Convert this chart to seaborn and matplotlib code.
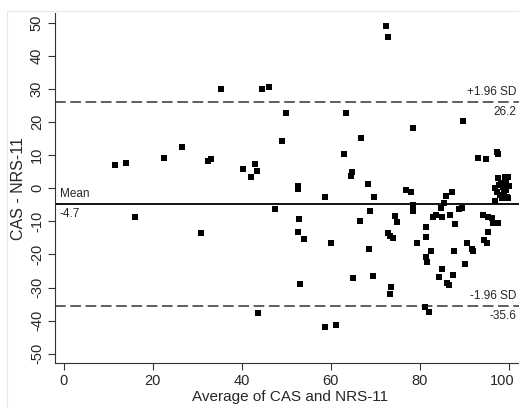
import matplotlib
matplotlib.use("Agg")
import matplotlib.pyplot as plt
import seaborn as sns
import pandas as pd
from matplotlib.patches import Rectangle
from matplotlib.transforms import ScaledTranslation

# ---- data ----
avg = [11.6, 13.9, 16.0, 22.6, 26.6, 30.9, 32.4, 33.1, 35.4, 40.4,
       42.2, 43.1, 43.4, 43.6, 44.6, 46.1, 47.5, 49.1, 50.0, 52.6,
       52.7, 52.9, 52.7, 54.0, 53.1, 58.7, 58.8, 60.1, 61.2, 63.0,
       63.4, 64.6, 64.7, 65.0, 66.7, 66.9, 68.5, 68.9, 68.7, 69.7,
       69.6, 72.5, 72.9, 72.8, 73.3, 74.1, 73.5, 73.4, 74.4, 75.0,
       76.9, 78.1, 78.6, 78.5, 78.6, 79.4, 81.5, 81.5, 82.6, 81.4,
       81.6, 81.1, 82.1, 82.9, 83.7, 84.3, 84.8, 85.0, 85.1, 85.5,
       85.9, 86.2, 86.7, 86.9, 87.3, 87.6, 87.7, 87.9, 88.9, 89.6,
       89.7, 90.2, 90.7, 91.8, 92.1, 93.2, 94.8, 94.2, 95.4, 96.3,
       96.5, 97.7, 95.3, 94.5, 95.1, 96.9, 97.4, 97.5,
       97.5, 98.2, 98.8, 99.5, 99.8, 97.0, 97.3, 98.0, 99.0, 99.6,
       99.9, 98.5, 100.0, 99.3, 97.8, 99.2]
diff = [6.9, 7.7, -8.6, 9.2, 12.5, -13.6, 8.3, 8.8, 30.0, 5.8,
        3.4, 7.4, 5.2, -37.6, 30.0, 30.7, -6.3, 14.4, 22.8, 0.8,
        -0.3, -9.4, -13.1, -15.3, -28.8, -2.7, -41.9, -16.6, -41.3, 10.5,
        22.7, 3.7, 4.9, -27.2, -9.8, 15.3, 1.2, -6.9, -18.4, -2.5,
        -26.4, 49.2, 45.8, -13.6, -14.3, -15.1, -29.9, -32.0, -8.3, -10.2,
        -0.6, -1.0, -5.0, -6.9, 18.2, -16.4, -11.8, -14.6, -18.9, -20.7,
        -22.4, -36.0, -37.5, -8.8, -8.1, -26.8, -6.0, -8.8, -24.4, -4.4,
        -2.2, -28.7, -29.2, -8.0, -1.0, -26.2, -18.9, -10.9, -6.3, -5.9,
        20.5, -23.0, -16.6, -18.4, -18.9, 9.1, 8.9, -8.1, -8.6, -8.9,
        -10.6, -10.6, -13.3, -15.6, -16.4, -3.8, 10.9, 10.4,
        3.0, 1.5, 0.5, 2.0, 3.5, 0.0, -1.0, -2.0, -1.5, -2.5,
        -3.0, -3.0, 0.8, -0.5, 1.0, 3.5]
mean_diff = -4.7
upper_loa = 26.2
lower_loa = -35.6
x_ticks = [0, 20, 40, 60, 80, 100]
y_ticks = [-50, -40, -30, -20, -10, 0, 10, 20, 30, 40, 50]

df = pd.DataFrame({"avg": avg, "diff": diff})

sns.set_style("white")
plt.rcParams["font.family"] = ["Liberation Sans", "DejaVu Sans"]

W, H = 519, 408
fig = plt.figure(figsize=(W / 100, H / 100), dpi=100)
# faint graph-region border like the original
fig.patches.append(Rectangle((7 / W, -0.1), 1.2, (H - 11) / H + 0.1,
                             transform=fig.transFigure, fill=False,
                             edgecolor="#e6e6e6", linewidth=0.8))
ax = fig.add_axes([55 / W, (H - 363.3) / H, 471 / W, 350.3 / H])

sns.scatterplot(data=df, x="avg", y="diff", ax=ax, marker="s", s=20,
                color="black", linewidth=0, clip_on=False, zorder=3)

ax.axhline(mean_diff, color="black", lw=1.3, zorder=2)
ax.axhline(upper_loa, color="#333333", lw=1.1, ls=(0, (7, 3)), zorder=2)
ax.axhline(lower_loa, color="#333333", lw=1.1, ls=(0, (7, 3)), zorder=2)

ax.set_xlim(-1.96, 103.9)
ax.set_ylim(-52.9, 53.0)
ax.set_xticks(x_ticks)
ax.set_yticks(y_ticks)
ax.set_yticklabels([str(v) for v in y_ticks], rotation=90, va="center")
ax.tick_params(axis="both", labelsize=10.5, length=5, width=0.8,
               color="#333333", direction="out", pad=3)
ax.tick_params(left=True, bottom=True)
for side in ["top", "right"]:
    ax.spines[side].set_visible(False)
for side in ["left", "bottom"]:
    ax.spines[side].set_color("#333333")
    ax.spines[side].set_linewidth(0.8)

# keep the last x tick label inside the figure edge
last = ax.get_xticklabels()[-1]
last.set_transform(last.get_transform() +
                   ScaledTranslation(-6 / 100, 0, fig.dpi_scale_trans))

ax.set_xlabel("Average of CAS and NRS-11", fontsize=11, labelpad=1)
ax.set_ylabel("CAS - NRS-11", fontsize=11.5, labelpad=3)

tr = ax.get_yaxis_transform()
xr = (516 - 55) / 471
ax.text(0.01, mean_diff + 1.2, "Mean", transform=tr, fontsize=8.5,
        ha="left", va="bottom")
ax.text(0.01, mean_diff - 1.2, f"{mean_diff:.1f}", transform=tr, fontsize=8.5,
        ha="left", va="top")
ax.text(xr, upper_loa + 1.2, "+1.96 SD", transform=tr, fontsize=8.5,
        ha="right", va="bottom")
ax.text(xr, upper_loa - 1.2, f"{upper_loa:.1f}", transform=tr, fontsize=8.5,
        ha="right", va="top")
ax.text(xr, lower_loa + 1.2, "-1.96 SD", transform=tr, fontsize=8.5,
        ha="right", va="bottom")
ax.text(xr, lower_loa - 1.2, f"{lower_loa:.1f}", transform=tr, fontsize=8.5,
        ha="right", va="top")

fig.savefig("out.png", dpi=100)
